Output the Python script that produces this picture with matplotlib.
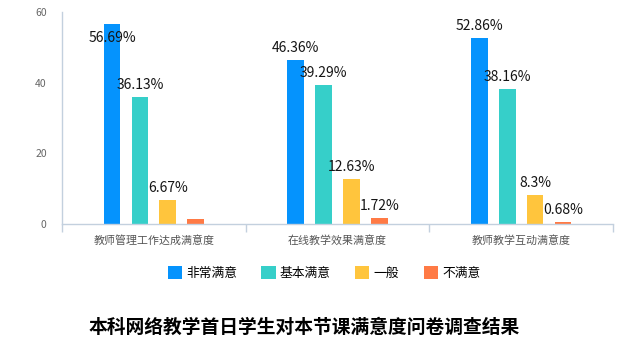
import matplotlib
matplotlib.use("Agg")
import matplotlib.pyplot as plt
import numpy as np

plt.rcParams['font.family'] = ['Noto Sans CJK SC', 'DejaVu Sans']

categories = ['教师管理工作达成满意度', '在线教学效果满意度', '教师教学互动满意度']
series_names = ['非常满意', '基本满意', '一般', '不满意']
values = {
    '非常满意': [56.69, 46.36, 52.86],
    '基本满意': [36.13, 39.29, 38.16],
    '一般': [6.67, 12.63, 8.3],
    '不满意': [1.3, 1.72, 0.68],
}
labels = {
    '非常满意': ['56.69%', '46.36%', '52.86%'],
    '基本满意': ['36.13%', '39.29%', '38.16%'],
    '一般': ['6.67%', '12.63%', '8.3%'],
    '不满意': ['', '1.72%', '0.68%'],
}
colors = ['#0593fd', '#36cfc9', '#ffc53d', '#ff7a45']
title = '本科网络教学首日学生对本节课满意度问卷调查结果'
yticks = [0, 20, 40, 60]

fig = plt.figure(figsize=(6.22, 3.52), dpi=100)
ax = fig.add_axes([0.0997, 0.3636, 0.8858, 0.6014])

x = np.arange(len(categories))
spacing = 0.152
width = 0.091
offsets = (np.arange(len(series_names)) - 1.5) * spacing
for i, name in enumerate(series_names):
    xs = x + offsets[i]
    ax.bar(xs, values[name], width=width, color=colors[i], label=name, zorder=2)
    for xi, v, lab in zip(xs, values[name], labels[name]):
        if not lab:
            continue
        y = v + 3.4 if v + 3.4 < 58 else v - 4.0
        ax.text(xi, y, lab, ha='center', va='center', fontsize=10,
                color='#151515', zorder=3)

ax.set_xlim(-0.5, 2.5)
ax.set_ylim(0, 60)
ax.set_yticks(yticks)
ax.set_yticklabels([str(t) for t in yticks], fontsize=7.5, color='#666666')
ax.tick_params(axis='y', length=0, pad=11)
ax.set_xticks(x)
ax.set_xticklabels(categories, fontsize=7.9, color='#555555')
ax.tick_params(axis='x', which='major', length=0, pad=8)
ax.set_xticks([-0.5, 0.5, 1.5, 2.5], minor=True)
ax.tick_params(axis='x', which='minor', length=6, color='#c3d0de', width=1)

for s in ['top', 'right']:
    ax.spines[s].set_visible(False)
for s in ['left', 'bottom']:
    ax.spines[s].set_color('#c3d0de')
    ax.spines[s].set_linewidth(1)

leg = fig.legend(loc='center', bbox_to_anchor=(324 / 622, 1 - 273 / 352),
                 ncol=4, frameon=False, fontsize=9.2, handlelength=1.1,
                 handleheight=1.1, handletextpad=0.35, columnspacing=1.9)

fig.text(304 / 622, 1 - 327 / 352, title, ha='center', va='center',
         fontsize=13.5, fontweight='bold', color='#000000')

fig.savefig('out.png', dpi=100)
